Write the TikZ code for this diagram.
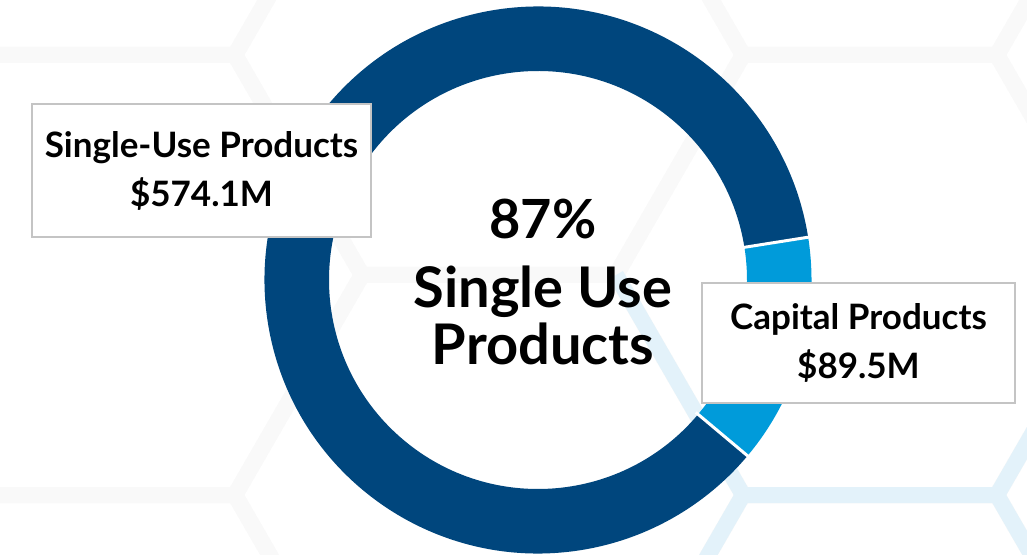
\documentclass[tikz,border=0pt]{standalone}
\usepackage{fontspec}
\setmainfont{Lato}
\definecolor{dblue}{HTML}{00467D}
\definecolor{lblue}{HTML}{009BDA}
\definecolor{boxgrey}{HTML}{C4C4C4}
\definecolor{hexgrey}{HTML}{F9F9F9}
\definecolor{hexblue}{HTML}{E3F2FA}
\begin{document}
\begin{tikzpicture}[x=1pt,y=1pt,
  labelbox/.style={draw=boxgrey, line width=2pt, fill=white, align=center, inner sep=0pt,
    font=\bfseries\fontsize{35}{49}\selectfont},
  hexline/.style={draw=hexgrey, line width=16pt, line join=miter},
  hexblueline/.style={draw=hexblue, line width=16pt, line join=miter},
  gapline/.style={draw=white, line width=3pt},
]
\useasboundingbox (0,0) rectangle (1027,554);
\fill[white] (0,0) rectangle (1027,554);
% faint hexagon background
\foreach \cx/\cy in {870/279, 870/719, 870/-161, 489/499, 489/59, 108/279, 108/719, 108/-161, 1251/499, 1251/59}
  \draw[hexline] (\cx+254,\cy) -- ++(-127,220) -- ++(-254,0) -- ++(-127,-220) -- ++(127,-220) -- ++(254,0) -- cycle;
\draw[hexblueline] (616,279) -- (743,59) -- (997,59) -- (1124,279);
\draw[hexblueline] (743,59) -- (616,-161);
\draw[hexblueline] (997,59) -- (1124,-161);
% donut
\begin{scope}[shift={(538,274)}]
  \fill[dblue] (9:273.5) arc[start angle=9,end angle=320,radius=273.5]
    -- (320:209) arc[start angle=320,end angle=9,radius=209] -- cycle;
  \fill[lblue] (-40:273.5) arc[start angle=-40,end angle=9,radius=273.5]
    -- (9:209) arc[start angle=9,end angle=-40,radius=209] -- cycle;
  \draw[gapline] (9:206) -- (9:277);
  \draw[gapline] (-40:206) -- (-40:277);
\end{scope}
% labels
\node[labelbox, minimum width=339pt, minimum height=133pt] (single) at (201.5,383.5)
  {Single-Use Products\\\$574.1M};
\node[labelbox, minimum width=313pt, minimum height=120pt] (capital) at (858.5,211)
  {Capital Products\\\$89.5M};
\node[font=\bfseries\fontsize{56}{57}\selectfont, align=center] (share) at (543,272)
  {{\fontsize{54}{54}\selectfont 87\%}\\[12pt]Single Use\\Products};
\end{tikzpicture}
\end{document}
